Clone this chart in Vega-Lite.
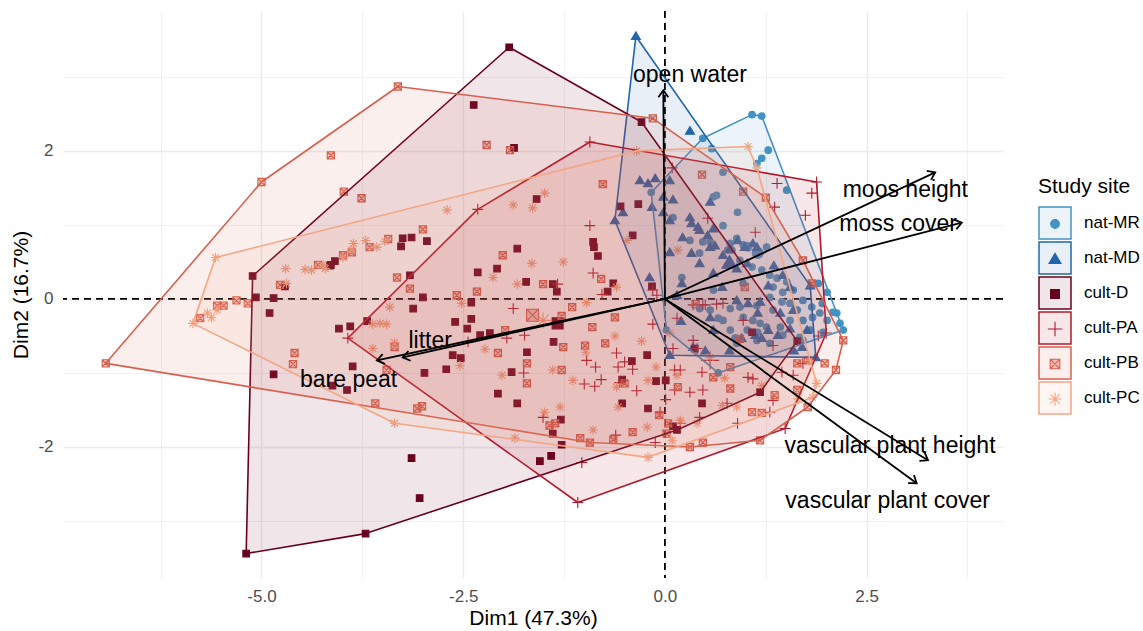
{
"$schema":"https://vega.github.io/schema/vega-lite/v6.json",
"width":940,"height":567,
"autosize":{"type":"none"},
"padding":{"left":63,"top":11,"right":140,"bottom":53},
"background":"white",
"config":{"font":"Liberation Sans","view":{"stroke":null},
 "axis":{"domain":false,"ticks":false,"labelFont":"Liberation Sans","labelFontSize":17,"labelColor":"#4D4D4D","titleFont":"Liberation Sans","titleFontSize":21,"titleFontWeight":"normal","titleColor":"black","gridColor":"#EBEBEB","labelOverlap":false}
},
"resolve":{"legend":{"stroke":"independent","fill":"independent"}},
"datasets":{
"hull":[
{"site":"nat-MR","i":0,"x":1.08,"y":2.49},{"site":"nat-MR","i":1,"x":1.20,"y":2.47},{"site":"nat-MR","i":2,"x":2.21,"y":-0.42},{"site":"nat-MR","i":3,"x":0.66,"y":-1.00},{"site":"nat-MR","i":4,"x":0.02,"y":-0.42},{"site":"nat-MR","i":5,"x":-0.17,"y":1.44},{"site":"nat-MR","i":6,"x":0.47,"y":2.17},{"site":"nat-MR","i":7,"x":1.08,"y":2.49},
{"site":"nat-MD","i":0,"x":-0.36,"y":3.55},{"site":"nat-MD","i":1,"x":1.80,"y":0.18},{"site":"nat-MD","i":2,"x":1.87,"y":-0.79},{"site":"nat-MD","i":3,"x":0.06,"y":-0.76},{"site":"nat-MD","i":4,"x":-0.62,"y":1.06},{"site":"nat-MD","i":5,"x":-0.36,"y":3.55},
{"site":"cult-D","i":0,"x":-1.93,"y":3.40},{"site":"cult-D","i":1,"x":-0.29,"y":2.39},{"site":"cult-D","i":2,"x":1.64,"y":-0.57},{"site":"cult-D","i":3,"x":1.18,"y":-1.26},{"site":"cult-D","i":4,"x":0.15,"y":-1.77},{"site":"cult-D","i":5,"x":-3.71,"y":-3.17},{"site":"cult-D","i":6,"x":-5.19,"y":-3.44},{"site":"cult-D","i":7,"x":-5.11,"y":0.31},{"site":"cult-D","i":8,"x":-1.93,"y":3.40},
{"site":"cult-PA","i":0,"x":-0.93,"y":2.12},{"site":"cult-PA","i":1,"x":1.88,"y":1.58},{"site":"cult-PA","i":2,"x":2.00,"y":-0.46},{"site":"cult-PA","i":3,"x":1.49,"y":-1.75},{"site":"cult-PA","i":4,"x":-1.08,"y":-2.75},{"site":"cult-PA","i":5,"x":-3.93,"y":-0.53},{"site":"cult-PA","i":6,"x":-2.32,"y":1.21},{"site":"cult-PA","i":7,"x":-0.93,"y":2.12},
{"site":"cult-PB","i":0,"x":-3.31,"y":2.87},{"site":"cult-PB","i":1,"x":-0.15,"y":2.44},{"site":"cult-PB","i":2,"x":1.25,"y":1.37},{"site":"cult-PB","i":3,"x":1.71,"y":0.52},{"site":"cult-PB","i":4,"x":2.21,"y":-0.56},{"site":"cult-PB","i":5,"x":2.12,"y":-0.96},{"site":"cult-PB","i":6,"x":1.77,"y":-1.46},{"site":"cult-PB","i":7,"x":1.18,"y":-1.91},{"site":"cult-PB","i":8,"x":0.31,"y":-2.00},{"site":"cult-PB","i":9,"x":-0.93,"y":-1.94},{"site":"cult-PB","i":10,"x":-6.93,"y":-0.87},{"site":"cult-PB","i":11,"x":-5.00,"y":1.58},{"site":"cult-PB","i":12,"x":-3.31,"y":2.87},
{"site":"cult-PC","i":0,"x":1.03,"y":2.06},{"site":"cult-PC","i":1,"x":1.14,"y":1.77},{"site":"cult-PC","i":2,"x":1.80,"y":-0.83},{"site":"cult-PC","i":3,"x":1.88,"y":-1.14},{"site":"cult-PC","i":4,"x":1.83,"y":-1.33},{"site":"cult-PC","i":5,"x":-0.21,"y":-2.14},{"site":"cult-PC","i":6,"x":-3.35,"y":-1.68},{"site":"cult-PC","i":7,"x":-5.85,"y":-0.33},{"site":"cult-PC","i":8,"x":-5.57,"y":0.56},{"site":"cult-PC","i":9,"x":-0.35,"y":2.00},{"site":"cult-PC","i":10,"x":1.03,"y":2.06}
],
"pts":[
{"site":"nat-MR","x":1.08,"y":2.49},{"site":"nat-MR","x":1.20,"y":2.47},{"site":"nat-MR","x":2.21,"y":-0.42},{"site":"nat-MR","x":0.66,"y":-1.00},{"site":"nat-MR","x":0.02,"y":-0.42},{"site":"nat-MR","x":-0.17,"y":1.44},{"site":"nat-MR","x":0.47,"y":2.17},
{"site":"nat-MR","x":0.58,"y":2.03},{"site":"nat-MR","x":0.72,"y":1.71},{"site":"nat-MR","x":1.20,"y":1.90},{"site":"nat-MR","x":1.14,"y":1.83},{"site":"nat-MR","x":1.28,"y":2.01},{"site":"nat-MR","x":1.51,"y":1.47},{"site":"nat-MR","x":0.64,"y":1.40},{"site":"nat-MR","x":0.90,"y":1.17},{"site":"nat-MR","x":0.72,"y":0.99},{"site":"nat-MR","x":0.10,"y":1.10},{"site":"nat-MR","x":0.47,"y":0.77},{"site":"nat-MR","x":0.78,"y":0.66},{"site":"nat-MR","x":1.02,"y":0.72},{"site":"nat-MR","x":1.26,"y":0.70},{"site":"nat-MR","x":0.60,"y":1.38},{"site":"nat-MR","x":0.31,"y":0.79},{"site":"nat-MR","x":0.43,"y":0.62},{"site":"nat-MR","x":0.81,"y":0.75},{"site":"nat-MR","x":0.21,"y":0.29},{"site":"nat-MR","x":0.60,"y":0.12},{"site":"nat-MR","x":0.97,"y":0.21},
{"site":"nat-MR","x":0.56,"y":0.77},{"site":"nat-MR","x":0.89,"y":0.82},{"site":"nat-MR","x":0.97,"y":0.73},{"site":"nat-MR","x":0.83,"y":0.66},{"site":"nat-MR","x":1.03,"y":0.69},{"site":"nat-MR","x":0.93,"y":0.52},{"site":"nat-MR","x":1.08,"y":0.43},{"site":"nat-MR","x":1.20,"y":0.39},{"site":"nat-MR","x":1.30,"y":0.32},{"site":"nat-MR","x":1.39,"y":0.28},{"site":"nat-MR","x":1.51,"y":0.23},{"site":"nat-MR","x":1.34,"y":0.16},{"site":"nat-MR","x":1.46,"y":0.09},{"site":"nat-MR","x":1.59,"y":0.12},{"site":"nat-MR","x":1.30,"y":0.02},{"site":"nat-MR","x":1.45,"y":-0.04},{"site":"nat-MR","x":1.55,"y":-0.06},{"site":"nat-MR","x":1.64,"y":-0.15},{"site":"nat-MR","x":1.34,"y":-0.15},{"site":"nat-MR","x":1.14,"y":-0.09},{"site":"nat-MR","x":0.93,"y":-0.11},{"site":"nat-MR","x":0.81,"y":-0.13},{"site":"nat-MR","x":0.97,"y":-0.25},{"site":"nat-MR","x":1.09,"y":-0.29},{"site":"nat-MR","x":1.26,"y":-0.38},{"site":"nat-MR","x":1.43,"y":-0.38},{"site":"nat-MR","x":1.55,"y":-0.29},{"site":"nat-MR","x":1.71,"y":-0.29},{"site":"nat-MR","x":1.83,"y":-0.25},{"site":"nat-MR","x":1.92,"y":-0.19},{"site":"nat-MR","x":2.01,"y":-0.29},{"site":"nat-MR","x":2.08,"y":-0.18},{"site":"nat-MR","x":2.17,"y":-0.33},{"site":"nat-MR","x":1.67,"y":-0.52},{"site":"nat-MR","x":1.46,"y":-0.49},{"site":"nat-MR","x":1.80,"y":-0.42},{"site":"nat-MR","x":0.72,"y":-0.29},{"site":"nat-MR","x":0.56,"y":-0.15},{"site":"nat-MR","x":0.43,"y":-0.13},{"site":"nat-MR","x":1.15,"y":-0.45},{"site":"nat-MR","x":0.87,"y":-0.53},{"site":"nat-MR","x":1.71,"y":-0.02},{"site":"nat-MR","x":1.82,"y":-0.11},{"site":"nat-MR","x":1.95,"y":-0.06},{"site":"nat-MR","x":1.90,"y":0.21},{"site":"nat-MR","x":2.01,"y":0.09},{"site":"nat-MR","x":2.13,"y":-0.19},{"site":"nat-MR","x":0.66,"y":-0.26},{"site":"nat-MR","x":0.81,"y":-0.42},{"site":"nat-MR","x":1.02,"y":-0.42},{"site":"nat-MR","x":1.18,"y":-0.33},{"site":"nat-MR","x":0.89,"y":-0.60},{"site":"nat-MR","x":1.14,"y":-0.56},{"site":"nat-MR","x":1.30,"y":-0.60},{"site":"nat-MR","x":1.96,"y":-0.45},{"site":"nat-MR","x":1.71,"y":-0.56},
{"site":"nat-MR","x":1.15,"y":0.62,"kind":"mean"},
{"site":"nat-MD","x":-0.36,"y":3.55},{"site":"nat-MD","x":1.80,"y":0.18},{"site":"nat-MD","x":1.87,"y":-0.79},{"site":"nat-MD","x":0.06,"y":-0.76},{"site":"nat-MD","x":-0.62,"y":1.06},
{"site":"nat-MD","x":0.31,"y":2.27},{"site":"nat-MD","x":-0.31,"y":1.60},{"site":"nat-MD","x":-0.21,"y":1.56},{"site":"nat-MD","x":-0.12,"y":1.63},{"site":"nat-MD","x":0.06,"y":1.60},{"site":"nat-MD","x":-0.02,"y":1.38},{"site":"nat-MD","x":0.10,"y":1.34},{"site":"nat-MD","x":-0.16,"y":1.24},{"site":"nat-MD","x":-0.52,"y":1.17},{"site":"nat-MD","x":-0.02,"y":1.17},{"site":"nat-MD","x":0.31,"y":1.10},{"site":"nat-MD","x":0.56,"y":1.31},{"site":"nat-MD","x":0.06,"y":1.06},{"site":"nat-MD","x":0.43,"y":0.93},{"site":"nat-MD","x":0.22,"y":0.83},{"site":"nat-MD","x":0.56,"y":0.70},{"site":"nat-MD","x":0.06,"y":0.63},{"site":"nat-MD","x":0.81,"y":0.68},{"site":"nat-MD","x":0.33,"y":0.62},{"site":"nat-MD","x":0.99,"y":0.70},{"site":"nat-MD","x":1.14,"y":0.70},{"site":"nat-MD","x":0.81,"y":0.48},{"site":"nat-MD","x":0.60,"y":0.35},{"site":"nat-MD","x":0.43,"y":0.48},{"site":"nat-MD","x":-0.19,"y":0.29},{"site":"nat-MD","x":0.21,"y":0.21},{"site":"nat-MD","x":0.41,"y":0.97},{"site":"nat-MD","x":0.53,"y":0.86},{"site":"nat-MD","x":0.62,"y":0.72},{"site":"nat-MD","x":0.33,"y":1.02},{"site":"nat-MD","x":0.60,"y":0.95},{"site":"nat-MD","x":0.72,"y":0.59},{"site":"nat-MD","x":0.89,"y":0.41},{"site":"nat-MD","x":1.02,"y":0.48},{"site":"nat-MD","x":0.71,"y":0.16},{"site":"nat-MD","x":0.89,"y":-0.02},{"site":"nat-MD","x":1.03,"y":-0.06},{"site":"nat-MD","x":1.18,"y":-0.04},{"site":"nat-MD","x":1.15,"y":-0.19},{"site":"nat-MD","x":1.43,"y":-0.19},{"site":"nat-MD","x":1.59,"y":-0.15},{"site":"nat-MD","x":1.28,"y":-0.42},{"site":"nat-MD","x":1.40,"y":-0.49},{"site":"nat-MD","x":1.12,"y":-0.49},{"site":"nat-MD","x":1.20,"y":-0.53},{"site":"nat-MD","x":0.95,"y":-0.53},{"site":"nat-MD","x":0.56,"y":-0.25},{"site":"nat-MD","x":1.55,"y":-0.40},{"site":"nat-MD","x":1.76,"y":-0.42},{"site":"nat-MD","x":1.28,"y":0.18},{"site":"nat-MD","x":1.46,"y":0.32},{"site":"nat-MD","x":1.55,"y":0.16},{"site":"nat-MD","x":0.90,"y":0.79},{"site":"nat-MD","x":1.09,"y":0.75},{"site":"nat-MD","x":0.60,"y":-0.42},{"site":"nat-MD","x":0.35,"y":-0.65},{"site":"nat-MD","x":0.20,"y":-0.30},{"site":"nat-MD","x":0.15,"y":0.05},{"site":"nat-MD","x":1.70,"y":-0.65},{"site":"nat-MD","x":1.60,"y":-0.70},{"site":"nat-MD","x":0.50,"y":-0.70},{"site":"nat-MD","x":0.80,"y":-0.70},{"site":"nat-MD","x":1.35,"y":0.45},
{"site":"nat-MD","x":0.80,"y":0.49,"kind":"mean"},
{"site":"cult-D","x":-1.93,"y":3.40},{"site":"cult-D","x":-0.29,"y":2.39},{"site":"cult-D","x":1.64,"y":-0.57},{"site":"cult-D","x":1.18,"y":-1.26},{"site":"cult-D","x":0.15,"y":-1.77},{"site":"cult-D","x":-3.71,"y":-3.17},{"site":"cult-D","x":-5.19,"y":-3.44},{"site":"cult-D","x":-5.11,"y":0.31},
{"site":"cult-D","x":-5.07,"y":0.02},{"site":"cult-D","x":-4.85,"y":0.01},{"site":"cult-D","x":-4.90,"y":-0.19},{"site":"cult-D","x":-4.71,"y":0.17},{"site":"cult-D","x":-4.14,"y":0.46},{"site":"cult-D","x":-4.09,"y":0.51},{"site":"cult-D","x":-3.27,"y":0.71},{"site":"cult-D","x":-3.25,"y":0.82},{"site":"cult-D","x":-3.14,"y":0.83},{"site":"cult-D","x":-2.95,"y":0.78},{"site":"cult-D","x":-3.16,"y":0.32},{"site":"cult-D","x":-3.00,"y":0.02},{"site":"cult-D","x":-3.12,"y":-0.13},{"site":"cult-D","x":-3.90,"y":-0.37},{"site":"cult-D","x":-4.04,"y":-0.40},{"site":"cult-D","x":-3.69,"y":-0.30},{"site":"cult-D","x":-3.87,"y":-0.91},{"site":"cult-D","x":-4.85,"y":-1.02},{"site":"cult-D","x":-4.12,"y":-1.17},{"site":"cult-D","x":-3.94,"y":-1.23},
{"site":"cult-D","x":-2.60,"y":-0.31},{"site":"cult-D","x":-2.45,"y":-0.40},{"site":"cult-D","x":-2.40,"y":-0.27},{"site":"cult-D","x":-2.29,"y":-0.49},{"site":"cult-D","x":-2.17,"y":-0.46},{"site":"cult-D","x":-2.63,"y":-0.76},{"site":"cult-D","x":-2.53,"y":-0.80},{"site":"cult-D","x":-2.71,"y":-0.95},{"site":"cult-D","x":-2.98,"y":-1.00},{"site":"cult-D","x":-1.71,"y":-0.72},{"site":"cult-D","x":-1.38,"y":-0.58},{"site":"cult-D","x":-1.90,"y":-0.99},{"site":"cult-D","x":-2.07,"y":-1.28},{"site":"cult-D","x":-1.83,"y":-1.41},{"site":"cult-D","x":-1.39,"y":-1.82},{"site":"cult-D","x":-1.29,"y":-1.63},{"site":"cult-D","x":-1.28,"y":-1.97},{"site":"cult-D","x":-1.41,"y":-2.12},{"site":"cult-D","x":-1.55,"y":-2.19},{"site":"cult-D","x":-3.14,"y":-2.15},{"site":"cult-D","x":-3.04,"y":-2.69},{"site":"cult-D","x":-0.53,"y":-1.41},{"site":"cult-D","x":-0.53,"y":-1.09},{"site":"cult-D","x":-0.41,"y":-0.84},{"site":"cult-D","x":-0.22,"y":-0.76},{"site":"cult-D","x":-0.21,"y":-1.48},{"site":"cult-D","x":-0.11,"y":-1.11},{"site":"cult-D","x":0.01,"y":-1.10},{"site":"cult-D","x":0.10,"y":-1.72},
{"site":"cult-D","x":-2.37,"y":2.62},{"site":"cult-D","x":-1.87,"y":2.04},{"site":"cult-D","x":-1.59,"y":1.35},{"site":"cult-D","x":-0.55,"y":1.25},{"site":"cult-D","x":-0.33,"y":1.28},{"site":"cult-D","x":-0.40,"y":0.86},{"site":"cult-D","x":-1.83,"y":0.68},{"site":"cult-D","x":-2.32,"y":0.36},{"site":"cult-D","x":-2.08,"y":0.41},{"site":"cult-D","x":-1.72,"y":0.23},{"site":"cult-D","x":-1.39,"y":0.20},{"site":"cult-D","x":-1.34,"y":0.10},{"site":"cult-D","x":-0.89,"y":0.77},{"site":"cult-D","x":-0.88,"y":0.70},{"site":"cult-D","x":-0.83,"y":0.58},{"site":"cult-D","x":-0.64,"y":0.21},{"site":"cult-D","x":-0.71,"y":0.10},{"site":"cult-D","x":-0.16,"y":0.17},{"site":"cult-D","x":-2.40,"y":-0.05},{"site":"cult-D","x":1.08,"y":-0.45},{"site":"cult-D","x":0.37,"y":-0.67},{"site":"cult-D","x":0.46,"y":-1.41},{"site":"cult-D","x":-4.15,"y":0.45},
{"site":"cult-D","x":-1.33,"y":-0.33,"kind":"mean"},
{"site":"cult-PA","x":-0.93,"y":2.12},{"site":"cult-PA","x":1.88,"y":1.58},{"site":"cult-PA","x":2.00,"y":-0.46},{"site":"cult-PA","x":1.49,"y":-1.75},{"site":"cult-PA","x":-1.08,"y":-2.75},{"site":"cult-PA","x":-3.93,"y":-0.53},{"site":"cult-PA","x":-2.32,"y":1.21},
{"site":"cult-PA","x":0.09,"y":1.77},{"site":"cult-PA","x":1.39,"y":1.56},{"site":"cult-PA","x":1.82,"y":1.43},{"site":"cult-PA","x":1.36,"y":1.24},{"site":"cult-PA","x":1.74,"y":1.13},{"site":"cult-PA","x":1.12,"y":0.90},{"site":"cult-PA","x":0.53,"y":1.09},{"site":"cult-PA","x":-0.93,"y":0.99},{"site":"cult-PA","x":-0.89,"y":0.35},{"site":"cult-PA","x":-0.78,"y":0.06},{"site":"cult-PA","x":-1.33,"y":0.20},{"site":"cult-PA","x":-1.88,"y":-0.13},{"site":"cult-PA","x":-0.15,"y":0.12},{"site":"cult-PA","x":-0.10,"y":0.05},{"site":"cult-PA","x":0.47,"y":-0.08},{"site":"cult-PA","x":0.64,"y":-0.07},{"site":"cult-PA","x":0.72,"y":-0.06},
{"site":"cult-PA","x":-1.74,"y":-0.49},{"site":"cult-PA","x":-1.96,"y":-0.53},{"site":"cult-PA","x":-2.44,"y":-0.58},{"site":"cult-PA","x":-1.75,"y":-1.00},{"site":"cult-PA","x":-0.97,"y":-0.83},{"site":"cult-PA","x":-0.86,"y":-0.92},{"site":"cult-PA","x":-0.79,"y":-1.09},{"site":"cult-PA","x":-1.00,"y":-1.15},{"site":"cult-PA","x":-0.87,"y":-1.18},{"site":"cult-PA","x":-0.60,"y":-0.73},{"site":"cult-PA","x":-0.50,"y":-0.85},{"site":"cult-PA","x":-0.58,"y":-0.92},{"site":"cult-PA","x":-0.40,"y":-0.95},{"site":"cult-PA","x":-0.35,"y":-1.24},{"site":"cult-PA","x":-0.56,"y":-1.13},{"site":"cult-PA","x":-0.15,"y":-0.34},{"site":"cult-PA","x":0.12,"y":-0.96},{"site":"cult-PA","x":0.01,"y":-1.36},{"site":"cult-PA","x":-0.06,"y":-1.53},{"site":"cult-PA","x":-0.12,"y":-1.94},{"site":"cult-PA","x":-0.61,"y":-1.84},{"site":"cult-PA","x":-1.51,"y":-1.60},{"site":"cult-PA","x":-1.03,"y":-2.21},
{"site":"cult-PA","x":0.15,"y":-0.26},{"site":"cult-PA","x":0.10,"y":-0.67},{"site":"cult-PA","x":0.35,"y":-0.56},{"site":"cult-PA","x":0.40,"y":-0.67},{"site":"cult-PA","x":0.19,"y":-0.96},{"site":"cult-PA","x":0.46,"y":-0.99},{"site":"cult-PA","x":0.31,"y":-1.26},{"site":"cult-PA","x":0.47,"y":-1.23},{"site":"cult-PA","x":0.12,"y":-1.23},{"site":"cult-PA","x":0.77,"y":-1.41},{"site":"cult-PA","x":0.90,"y":-1.68},{"site":"cult-PA","x":0.43,"y":-1.60},{"site":"cult-PA","x":1.03,"y":-1.06},{"site":"cult-PA","x":1.09,"y":-1.08},{"site":"cult-PA","x":1.34,"y":-0.63},{"site":"cult-PA","x":1.45,"y":-0.99},{"site":"cult-PA","x":1.59,"y":-1.03},{"site":"cult-PA","x":1.71,"y":-0.87},{"site":"cult-PA","x":1.90,"y":-0.50},{"site":"cult-PA","x":1.30,"y":-1.53},{"site":"cult-PA","x":1.34,"y":-1.37},{"site":"cult-PA","x":0.19,"y":-1.68},{"site":"cult-PA","x":0.50,"y":-0.08},{"site":"cult-PA","x":0.97,"y":-0.29},{"site":"cult-PA","x":0.35,"y":-0.08},
{"site":"cult-PA","x":0.56,"y":-0.83,"kind":"mean"},
{"site":"cult-PB","x":-3.31,"y":2.87},{"site":"cult-PB","x":-0.15,"y":2.44},{"site":"cult-PB","x":1.25,"y":1.37},{"site":"cult-PB","x":1.71,"y":0.52},{"site":"cult-PB","x":2.21,"y":-0.56},{"site":"cult-PB","x":2.12,"y":-0.96},{"site":"cult-PB","x":1.77,"y":-1.46},{"site":"cult-PB","x":1.18,"y":-1.91},{"site":"cult-PB","x":0.31,"y":-2.00},{"site":"cult-PB","x":-0.93,"y":-1.94},{"site":"cult-PB","x":-6.93,"y":-0.87},{"site":"cult-PB","x":-5.00,"y":1.58},
{"site":"cult-PB","x":-4.14,"y":1.94},{"site":"cult-PB","x":-3.98,"y":1.45},{"site":"cult-PB","x":-3.76,"y":1.36},{"site":"cult-PB","x":-3.00,"y":0.94},{"site":"cult-PB","x":-3.43,"y":0.81},{"site":"cult-PB","x":-3.66,"y":0.70},{"site":"cult-PB","x":-3.88,"y":0.63},{"site":"cult-PB","x":-3.99,"y":0.59},{"site":"cult-PB","x":-4.30,"y":0.46},{"site":"cult-PB","x":-4.77,"y":0.19},{"site":"cult-PB","x":-3.32,"y":0.29},{"site":"cult-PB","x":-3.16,"y":0.14},{"site":"cult-PB","x":-5.31,"y":-0.02},{"site":"cult-PB","x":-5.17,"y":-0.06},{"site":"cult-PB","x":-5.47,"y":-0.09},{"site":"cult-PB","x":-5.55,"y":-0.09},{"site":"cult-PB","x":-5.76,"y":-0.26},{"site":"cult-PB","x":-4.59,"y":-0.73},{"site":"cult-PB","x":-4.61,"y":-0.88},{"site":"cult-PB","x":-3.59,"y":-1.41},{"site":"cult-PB","x":-3.35,"y":-0.65},{"site":"cult-PB","x":-3.45,"y":-0.96},
{"site":"cult-PB","x":-2.21,"y":2.08},{"site":"cult-PB","x":-1.92,"y":2.01},{"site":"cult-PB","x":-0.77,"y":1.55},{"site":"cult-PB","x":-2.01,"y":0.59},{"site":"cult-PB","x":-2.33,"y":0.10},{"site":"cult-PB","x":-2.58,"y":0.05},{"site":"cult-PB","x":-1.51,"y":0.20},{"site":"cult-PB","x":-1.15,"y":-0.11},{"site":"cult-PB","x":-0.79,"y":0.27},{"site":"cult-PB","x":0.46,"y":1.68},{"site":"cult-PB","x":0.97,"y":1.45},{"site":"cult-PB","x":0.99,"y":0.16},{"site":"cult-PB","x":0.38,"y":-0.07},
{"site":"cult-PB","x":-3.07,"y":-1.48},{"site":"cult-PB","x":-3.01,"y":-1.45},{"site":"cult-PB","x":-1.98,"y":-0.42},{"site":"cult-PB","x":-2.07,"y":-0.73},{"site":"cult-PB","x":-1.71,"y":-0.87},{"site":"cult-PB","x":-1.71,"y":-1.14},{"site":"cult-PB","x":-1.28,"y":-0.96},{"site":"cult-PB","x":-1.26,"y":-0.65},{"site":"cult-PB","x":-0.99,"y":-0.63},{"site":"cult-PB","x":-0.74,"y":-0.60},{"site":"cult-PB","x":-0.90,"y":-0.38},{"site":"cult-PB","x":-0.62,"y":-0.25},{"site":"cult-PB","x":-1.28,"y":-0.23},{"site":"cult-PB","x":-1.43,"y":-1.71},{"site":"cult-PB","x":-1.36,"y":-1.68},{"site":"cult-PB","x":-1.05,"y":-1.88},{"site":"cult-PB","x":-0.64,"y":-1.90},{"site":"cult-PB","x":-0.40,"y":-1.80},{"site":"cult-PB","x":-0.07,"y":-1.57},{"site":"cult-PB","x":0.04,"y":-1.68},{"site":"cult-PB","x":-0.50,"y":-1.14},
{"site":"cult-PB","x":1.82,"y":0.21},{"site":"cult-PB","x":1.98,"y":-0.87},{"site":"cult-PB","x":0.93,"y":-0.54},{"site":"cult-PB","x":0.81,"y":-0.92},{"site":"cult-PB","x":1.64,"y":-0.87},{"site":"cult-PB","x":0.60,"y":-1.06},{"site":"cult-PB","x":0.81,"y":-1.21},{"site":"cult-PB","x":0.16,"y":-1.19},{"site":"cult-PB","x":1.08,"y":-1.53},{"site":"cult-PB","x":1.20,"y":-1.54},{"site":"cult-PB","x":1.36,"y":-1.30},{"site":"cult-PB","x":1.64,"y":-1.23},{"site":"cult-PB","x":1.77,"y":-0.83},{"site":"cult-PB","x":0.47,"y":-1.94},{"site":"cult-PB","x":0.02,"y":-1.82},
{"site":"cult-PB","x":-1.64,"y":-0.22,"kind":"mean"},
{"site":"cult-PC","x":1.03,"y":2.06},{"site":"cult-PC","x":1.14,"y":1.77},{"site":"cult-PC","x":1.80,"y":-0.83},{"site":"cult-PC","x":1.88,"y":-1.14},{"site":"cult-PC","x":1.83,"y":-1.33},{"site":"cult-PC","x":-0.21,"y":-2.14},{"site":"cult-PC","x":-3.35,"y":-1.68},{"site":"cult-PC","x":-5.85,"y":-0.33},{"site":"cult-PC","x":-5.57,"y":0.56},{"site":"cult-PC","x":-0.35,"y":2.00},
{"site":"cult-PC","x":-5.67,"y":-0.19},{"site":"cult-PC","x":-5.55,"y":-0.15},{"site":"cult-PC","x":-5.62,"y":-0.25},{"site":"cult-PC","x":-4.70,"y":0.41},{"site":"cult-PC","x":-4.69,"y":0.21},{"site":"cult-PC","x":-4.46,"y":0.40},{"site":"cult-PC","x":-4.38,"y":0.39},{"site":"cult-PC","x":-4.24,"y":0.46},{"site":"cult-PC","x":-4.21,"y":0.41},{"site":"cult-PC","x":-3.99,"y":0.56},{"site":"cult-PC","x":-3.88,"y":0.66},{"site":"cult-PC","x":-3.86,"y":0.75},{"site":"cult-PC","x":-3.71,"y":0.79},{"site":"cult-PC","x":-3.57,"y":0.70},{"site":"cult-PC","x":-3.47,"y":0.78},{"site":"cult-PC","x":-2.70,"y":1.20},{"site":"cult-PC","x":-3.41,"y":-0.11},{"site":"cult-PC","x":-3.62,"y":-0.34},{"site":"cult-PC","x":-3.53,"y":-0.33},{"site":"cult-PC","x":-3.45,"y":-0.34},{"site":"cult-PC","x":-3.62,"y":-0.67},{"site":"cult-PC","x":-3.35,"y":-0.59},{"site":"cult-PC","x":-2.54,"y":-0.90},{"site":"cult-PC","x":-2.23,"y":-0.68},{"site":"cult-PC","x":-2.02,"y":-1.03},{"site":"cult-PC","x":-1.49,"y":-1.53},{"site":"cult-PC","x":-1.30,"y":-1.46},{"site":"cult-PC","x":-1.39,"y":-0.96},{"site":"cult-PC","x":-1.14,"y":-1.10},{"site":"cult-PC","x":-0.98,"y":-0.72},{"site":"cult-PC","x":-0.62,"y":-0.50},{"site":"cult-PC","x":-0.60,"y":-1.19},{"site":"cult-PC","x":-0.58,"y":-1.46},{"site":"cult-PC","x":-0.29,"y":-0.57},{"site":"cult-PC","x":-0.22,"y":-1.73},{"site":"cult-PC","x":-0.11,"y":-0.92},{"site":"cult-PC","x":-0.21,"y":-1.10},{"site":"cult-PC","x":-0.89,"y":-1.77},{"site":"cult-PC","x":-1.86,"y":-1.88},{"site":"cult-PC","x":-2.52,"y":-0.06},{"site":"cult-PC","x":-0.97,"y":-0.05},{"site":"cult-PC","x":0.06,"y":-0.46},{"site":"cult-PC","x":0.15,"y":-1.03},{"site":"cult-PC","x":-1.49,"y":1.43},{"site":"cult-PC","x":-1.88,"y":1.27},{"site":"cult-PC","x":-1.64,"y":1.23},{"site":"cult-PC","x":-0.47,"y":0.79},{"site":"cult-PC","x":0.16,"y":0.66},{"site":"cult-PC","x":-1.65,"y":0.48},{"site":"cult-PC","x":-1.26,"y":0.50},{"site":"cult-PC","x":-2.13,"y":0.29},{"site":"cult-PC","x":-1.83,"y":0.20},{"site":"cult-PC","x":-0.60,"y":0.16},{"site":"cult-PC","x":0.56,"y":-0.79},{"site":"cult-PC","x":0.74,"y":-1.07},{"site":"cult-PC","x":0.89,"y":-1.46},{"site":"cult-PC","x":0.71,"y":-1.44},{"site":"cult-PC","x":0.19,"y":-1.64},{"site":"cult-PC","x":0.40,"y":-1.68},{"site":"cult-PC","x":0.09,"y":-1.91},{"site":"cult-PC","x":1.20,"y":-1.17},{"site":"cult-PC","x":1.65,"y":-1.35},
{"site":"cult-PC","x":-1.51,"y":-0.29,"kind":"mean"}
],
"arrows":[
{"var":"open water","x0":0,"y0":0,"x":-0.02,"y":2.82,"lx":0.31,"ly":3.02},
{"var":"moos height","x0":0,"y0":0,"x":3.35,"y":1.71,"lx":2.98,"ly":1.47},
{"var":"moss cover","x0":0,"y0":0,"x":3.68,"y":1.03,"lx":2.89,"ly":1.01},
{"var":"vascular plant height","x0":0,"y0":0,"x":3.26,"y":-2.18,"lx":2.79,"ly":-1.98},
{"var":"vascular plant cover","x0":0,"y0":0,"x":3.12,"y":-2.49,"lx":2.76,"ly":-2.73},
{"var":"litter","x0":0,"y0":0,"x":-3.25,"y":-0.79,"lx":-2.91,"ly":-0.57},
{"var":"bare peat","x0":0,"y0":0,"x":-3.57,"y":-0.83,"lx":-3.92,"ly":-1.10}
],
"zero":[{"v":0}]
},
"layer":[
{"data":{"name":"zero"},
 "mark":{"type":"rule","strokeDash":[7,5],"strokeWidth":1.8,"color":"black"},
 "encoding":{"x":{"field":"v","type":"quantitative","title":"Dim1 (47.3%)",
   "scale":{"domain":[-7.46,4.19],"nice":false,"zero":false},
   "axis":{"values":[-6.25,-5,-3.75,-2.5,-1.25,0,1.25,2.5,3.75],
     "labelExpr":"datum.value == -5 ? '-5.0' : datum.value == -2.5 ? '-2.5' : datum.value == 0 ? '0.0' : datum.value == 2.5 ? '2.5' : ''",
     "labelPadding":10,"titlePadding":3,
     "gridWidth":{"condition":{"test":"datum.value == -5 || datum.value == -2.5 || datum.value == 0 || datum.value == 2.5","value":1.4},"value":0.7}}}}},
{"data":{"name":"zero"},
 "mark":{"type":"rule","strokeDash":[7,5],"strokeWidth":1.8,"color":"black"},
 "encoding":{"y":{"field":"v","type":"quantitative","title":"Dim2 (16.7%)",
   "scale":{"domain":[-3.77,3.89],"nice":false,"zero":false},
   "axis":{"values":[-3,-2,-1,0,1,2,3],
     "labelExpr":"datum.value == -2 ? '-2' : datum.value == 0 ? '0' : datum.value == 2 ? '2' : ''",
     "labelPadding":10,"titlePadding":6,
     "gridWidth":{"condition":{"test":"datum.value == -2 || datum.value == 0 || datum.value == 2","value":1.4},"value":0.7}}}}},
{"data":{"name":"pts"},
 "mark":{"type":"point","filled":true,"strokeWidth":1.1,"opacity":1},
 "encoding":{
  "x":{"field":"x","type":"quantitative","title":"Dim1 (47.3%)"},
  "y":{"field":"y","type":"quantitative","title":"Dim2 (16.7%)"},
  "fill":{"field":"site","type":"nominal","sort":["nat-MR","nat-MD","cult-D","cult-PA","cult-PB","cult-PC"],"legend":null},
  "stroke":{"field":"site","type":"nominal","sort":["nat-MR","nat-MD","cult-D","cult-PA","cult-PB","cult-PC"],"legend":null},
  "shape":{"field":"site","type":"nominal",
    "scale":{"domain":["nat-MR","nat-MD","cult-D","cult-PA","cult-PB","cult-PC"],
      "range":["M0.55,0A0.55,0.55,0,1,1,-0.55,0A0.55,0.55,0,1,1,0.55,0Z","M0,-0.72L0.75,0.55L-0.75,0.55Z","M-0.55,-0.55H0.55V0.55H-0.55Z","M-0.9,0H0.9M0,-0.9V0.9","M-0.6,-0.6H0.6V0.6H-0.6ZM-0.6,-0.6L0.6,0.6M-0.6,0.6L0.6,-0.6","M-0.8,0H0.8M0,-0.8V0.8M-0.57,-0.57L0.57,0.57M-0.57,0.57L0.57,-0.57"]},
    "legend":{"orient":"none","legendX":983,"legendY":196,"title":null,
      "labelFontSize":17,"labelFont":"Liberation Sans","labelExpr":"''","labelOffset":12,"symbolSize":256,"symbolStrokeWidth":1.1,"rowPadding":1,"clipHeight":34,"padding":0,
      "symbolFillColor":{"expr":"datum.value === 'cult-PB' ? 'rgba(214,96,77,0.35)' : scale('fill', datum.value)"},
      "symbolStrokeColor":{"expr":"scale('stroke', datum.value)"}}},
  "fillOpacity":{"condition":{"test":"datum.site === 'cult-PB'","value":0.35},"value":1},
  "size":{"condition":{"test":"datum.kind === 'mean'","value":400},"value":144}
 }},
{"data":{"name":"hull"},
 "mark":{"type":"line","strokeWidth":1.6,"fillOpacity":0.1,"strokeJoin":"round"},
 "encoding":{
  "x":{"field":"x","type":"quantitative","title":"Dim1 (47.3%)"},
  "y":{"field":"y","type":"quantitative","title":"Dim2 (16.7%)"},
  "order":{"field":"i","type":"quantitative"},
  "fill":{"field":"site","type":"nominal","sort":["nat-MR","nat-MD","cult-D","cult-PA","cult-PB","cult-PC"],
    "scale":{"range":["#4393C3","#2166AC","#67001F","#B2182B","#D6604D","#F4A582"]},
    "legend":null},
  "stroke":{"field":"site","type":"nominal","sort":["nat-MR","nat-MD","cult-D","cult-PA","cult-PB","cult-PC"],
    "scale":{"range":["#4393C3","#2166AC","#67001F","#B2182B","#D6604D","#F4A582"]},
    "legend":{"orient":"none","legendX":975,"legendY":165,"title":"Study site","titleFontSize":21,"titleFont":"Liberation Sans","titleFontWeight":"normal","titleColor":"black","titlePadding":9,
      "labelFontSize":17,"labelFont":"Liberation Sans","labelColor":"black","labelOffset":12,"symbolType":"square","symbolSize":1024,"symbolStrokeWidth":1.5,"rowPadding":1,"clipHeight":34,"padding":0,"symbolOpacity":1,
      "symbolFillColor":{"expr":"'rgba(' + rgb(scale('fill', datum.value)).r + ',' + rgb(scale('fill', datum.value)).g + ',' + rgb(scale('fill', datum.value)).b + ',0.1)'"}}}
 }},
{"data":{"name":"arrows"},
 "mark":{"type":"rule","strokeWidth":1.8,"color":"black"},
 "encoding":{
  "x":{"field":"x0","type":"quantitative","title":"Dim1 (47.3%)"},
  "y":{"field":"y0","type":"quantitative","title":"Dim2 (16.7%)"},
  "x2":{"field":"x"},
  "y2":{"field":"y"}
 }},
{"data":{"name":"arrows"},
 "transform":[{"calculate":"atan2(datum.x*80.67, datum.y*74)*180/PI","as":"ang"}],
 "mark":{"type":"point","shape":"M-1,1.4L0,0L1,1.4","filled":false,"stroke":"black","strokeWidth":1.8,"size":100,"opacity":1,"strokeJoin":"miter"},
 "encoding":{
  "x":{"field":"x","type":"quantitative","title":"Dim1 (47.3%)"},
  "y":{"field":"y","type":"quantitative","title":"Dim2 (16.7%)"},
  "angle":{"field":"ang","type":"quantitative","scale":null}
 }},
{"data":{"name":"arrows"},
 "mark":{"type":"text","fontSize":23,"font":"Liberation Sans","color":"black","align":"center","baseline":"middle"},
 "encoding":{
  "x":{"field":"lx","type":"quantitative","title":"Dim1 (47.3%)"},
  "y":{"field":"ly","type":"quantitative","title":"Dim2 (16.7%)"},
  "text":{"field":"var","type":"nominal"}
 }}
]
}
